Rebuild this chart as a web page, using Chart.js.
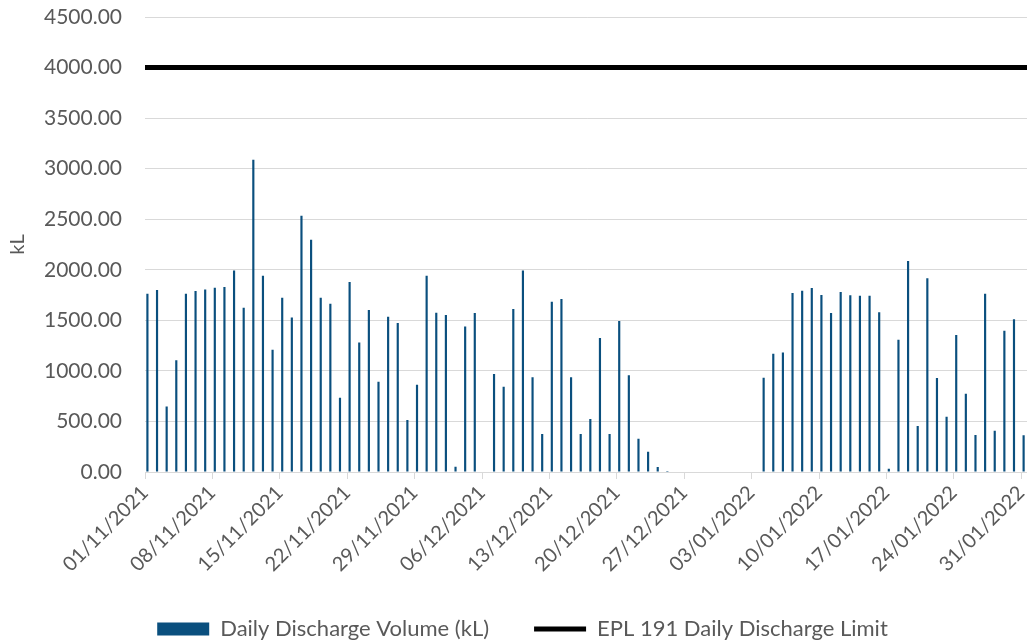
<!DOCTYPE html>
<html>
<head>
<meta charset="utf-8">
<script src="https://cdn.jsdelivr.net/npm/chart.js@4.4.1/dist/chart.umd.min.js"></script>
<style>
  html, body { margin: 0; padding: 0; background: #fff; overflow: hidden; }
  #wrap { width: 1045px; height: 641px; }
</style>
</head>
<body>
<div id="wrap"><canvas id="dischargeChart" width="1045" height="641"></canvas></div>
<script>
// Dates (daily, 01/11/2021 - 31/01/2022)
const dates = [
  '01/11/2021','02/11/2021','03/11/2021','04/11/2021','05/11/2021','06/11/2021','07/11/2021','08/11/2021','09/11/2021','10/11/2021',
  '11/11/2021','12/11/2021','13/11/2021','14/11/2021','15/11/2021','16/11/2021','17/11/2021','18/11/2021','19/11/2021','20/11/2021',
  '21/11/2021','22/11/2021','23/11/2021','24/11/2021','25/11/2021','26/11/2021','27/11/2021','28/11/2021','29/11/2021','30/11/2021',
  '01/12/2021','02/12/2021','03/12/2021','04/12/2021','05/12/2021','06/12/2021','07/12/2021','08/12/2021','09/12/2021','10/12/2021',
  '11/12/2021','12/12/2021','13/12/2021','14/12/2021','15/12/2021','16/12/2021','17/12/2021','18/12/2021','19/12/2021','20/12/2021',
  '21/12/2021','22/12/2021','23/12/2021','24/12/2021','25/12/2021','26/12/2021','27/12/2021','28/12/2021','29/12/2021','30/12/2021',
  '31/12/2021','01/01/2022','02/01/2022','03/01/2022','04/01/2022','05/01/2022','06/01/2022','07/01/2022','08/01/2022','09/01/2022',
  '10/01/2022','11/01/2022','12/01/2022','13/01/2022','14/01/2022','15/01/2022','16/01/2022','17/01/2022','18/01/2022','19/01/2022',
  '20/01/2022','21/01/2022','22/01/2022','23/01/2022','24/01/2022','25/01/2022','26/01/2022','27/01/2022','28/01/2022','29/01/2022',
  '30/01/2022','31/01/2022'
];

// Daily discharge volume (kL)
const novVolume = [1763, 1800, 649, 1104, 1763, 1790, 1806, 1823, 1829, 1994,
                   1625, 3088, 1941, 1210, 1724, 1529, 2535, 2297, 1724, 1664,
                   735, 1879, 1282, 1602, 893, 1536, 1473, 514, 864, 1941];
const decVolume = [1575, 1552, 53, 1440, 1572, 0, 969, 844, 1612, 1994,
                   936, 376, 1684, 1711, 936, 376, 524, 1325, 376, 1493,
                   956, 330, 201, 49, 10, 0, 0, 0, 0, 0, 0];
const janVolume = [0, 0, 0, 933, 1170, 1183, 1770, 1793, 1819, 1750,
                   1572, 1780, 1747, 1744, 1744, 1579, 33, 1309, 2086, 455,
                   1915, 929, 547, 1355, 775, 366, 1763, 409, 1397, 1510, 363];
const dailyVolume = novVolume.concat(decVolume, janVolume);

// EPL 191 limit (kL), drawn across the whole period
const limitValue = [4000, 4000];

const yTicks = { min: 0, max: 4500, step: 500 };
const labelEvery = 7;

const FONT = 'Lato, "Open Sans", sans-serif';
const GREY_TEXT = '#595959';
const GRID = '#d9d9d9';

const ctx = document.getElementById('dischargeChart').getContext('2d');
const chart = new Chart(ctx, {
  type: 'bar',
  data: {
    labels: dates,
    datasets: [
      {
        label: 'Daily Discharge Volume (kL)',
        data: dailyVolume,
        backgroundColor: '#0a4f7e',
        borderWidth: 0,
        barPercentage: 0.45,
        categoryPercentage: 1,
        pointStyle: 'rect'
      },
      {
        type: 'line',
        label: 'EPL 191 Daily Discharge Limit',
        data: [{ x: 0, y: limitValue[0] }, { x: dates.length, y: limitValue[1] }],
        xAxisID: 'x2',
        borderColor: '#000',
        backgroundColor: '#000',
        borderWidth: 5,
        pointRadius: 0,
        pointStyle: 'line',
        borderCapStyle: 'butt'
      }
    ]
  },
  options: {
    responsive: false,
    animation: false,
    layout: { padding: { top: 17, right: 0, left: 0, bottom: -9 } },
    plugins: {
      tooltip: { enabled: false },
      legend: {
        position: 'bottom',
        labels: {
          usePointStyle: true,
          pointStyleWidth: 52,
          boxHeight: 13,
          padding: 45,
          color: GREY_TEXT,
          font: { family: FONT, size: 22 }
        }
      }
    },
    scales: {
      x: {
        type: 'category',
        offset: true,
        grid: {
          offset: true,
          drawOnChartArea: false,
          tickLength: 7,
          color: (c) => (c.index % labelEvery === 0 ? GRID : 'rgba(0,0,0,0)')
        },
        border: { display: true, color: GRID, width: 1 },
        ticks: {
          autoSkip: false,
          minRotation: 45,
          maxRotation: 45,
          labelOffset: -5,
          padding: 2,
          color: GREY_TEXT,
          font: { family: FONT, size: 20 },
          callback: function (val, i) {
            return i % labelEvery === 0 ? this.getLabelForValue(val) : '';
          }
        },
        afterFit: (scale) => { scale.height = 101; }
      },
      x2: {
        type: 'linear',
        display: false,
        offset: false,
        min: 0,
        max: dates.length
      },
      y: {
        min: yTicks.min,
        max: yTicks.max,
        grid: { color: GRID, lineWidth: 1, tickLength: 20, tickColor: 'rgba(0,0,0,0)' },
        border: { display: false },
        ticks: {
          stepSize: yTicks.step,
          padding: 3,
          color: GREY_TEXT,
          font: { family: FONT, size: 21 },
          callback: (v) => v.toFixed(2)
        },
        title: {
          display: true,
          text: 'kL',
          color: GREY_TEXT,
          padding: { top: 6, bottom: 0 },
          font: { family: FONT, size: 20 }
        },
        afterFit: (scale) => { scale.width = 145; }
      }
    }
  }
});
</script>
</body>
</html>
